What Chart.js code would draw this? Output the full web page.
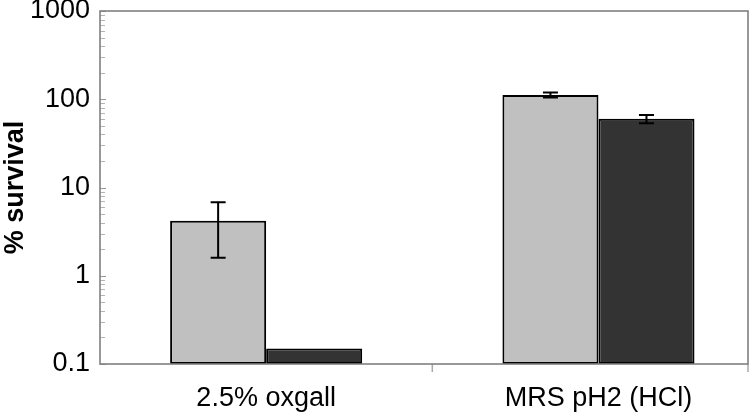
<!DOCTYPE html>
<html>
<head>
<meta charset="utf-8">
<script src="https://cdn.jsdelivr.net/npm/chart.js@4/dist/chart.umd.min.js"></script>
<style>
  html, body { margin: 0; padding: 0; background: #ffffff; }
  #wrap { width: 750px; height: 415px; }
</style>
</head>
<body>
<div id="wrap"><canvas id="c" width="750" height="415"></canvas></div>
<script>
// ---- data ----
const categories = ["2.5% oxgall", "MRS pH2 (HCl)"];
const survivalLight = [4.2, 112];
const survivalDark = [0.15, 60];
const errorLight = [2.6, 7];
const errorDark = [0, 6.5];
const yTickValues = [0.1, 1, 10, 100, 1000];

const FONT = "'Liberation Sans', Arial, Helvetica, sans-serif";
const AXIS_GRAY = '#808080';

function toPoints(values) {
  return values.map((v, i) => ({ x: i, y: v }));
}

const errorBars = {
  id: 'errorBars',
  afterDatasetsDraw(chart) {
    const ctx = chart.ctx;
    const ys = chart.scales.y;
    ctx.save();
    ctx.strokeStyle = '#000000';
    ctx.lineWidth = 2;
    chart.data.datasets.forEach((ds, di) => {
      const meta = chart.getDatasetMeta(di);
      ds.errors.forEach((e, i) => {
        if (!e) return;
        const el = meta.data[i];
        const v = ds.data[i].y;
        const top = ys.getPixelForValue(v + e);
        const bot = ys.getPixelForValue(Math.max(v - e, ys.min));
        const x = el.x;
        ctx.beginPath();
        ctx.moveTo(x, top); ctx.lineTo(x, bot);
        ctx.moveTo(x - 7.5, top); ctx.lineTo(x + 7.5, top);
        ctx.moveTo(x - 7.5, bot); ctx.lineTo(x + 7.5, bot);
        ctx.stroke();
      });
    });
    ctx.restore();
  }
};

const frame = {
  id: 'frame',
  afterDatasetsDraw(chart) {
    const ctx = chart.ctx;
    const a = chart.chartArea;
    const ys = chart.scales.y;
    const xs = chart.scales.x;
    ctx.save();
    // minor / major ticks inside the left axis
    const lo = Math.round(Math.log10(ys.min));
    const hi = Math.round(Math.log10(ys.max));
    for (let d = lo; d <= hi; d++) {
      for (let k = 1; k <= 9; k++) {
        const v = k * Math.pow(10, d);
        if (v > ys.max * 1.0001) break;
        const y = Math.round(ys.getPixelForValue(v)) + 0.5;
        ctx.strokeStyle = k === 1 ? '#9a9a9a' : '#b5b5b5';
        ctx.lineWidth = 1;
        ctx.beginPath();
        ctx.moveTo(a.left, y);
        ctx.lineTo(a.left + (k === 1 ? 6 : 5), y);
        ctx.stroke();
      }
    }
    // category separator ticks below x axis
    ctx.strokeStyle = '#a8a8a8';
    ctx.lineWidth = 1.5;
    [xs.getPixelForValue(0.5), a.right].forEach(px => {
      ctx.beginPath();
      ctx.moveTo(px, a.bottom);
      ctx.lineTo(px, a.bottom + 8);
      ctx.stroke();
    });
    // plot box
    ctx.strokeStyle = AXIS_GRAY;
    ctx.lineWidth = 1.6;
    ctx.strokeRect(a.left, a.top, a.right - a.left, a.bottom - a.top);
    ctx.restore();
  }
};

new Chart(document.getElementById('c'), {
  type: 'bar',
  data: {
    datasets: [
      {
        label: 'Series 1',
        data: toPoints(survivalLight),
        errors: errorLight,
        backgroundColor: '#c0c0c0',
        borderColor: '#000000',
        borderWidth: 2,
        borderSkipped: false
      },
      {
        label: 'Series 2',
        data: toPoints(survivalDark),
        errors: errorDark,
        backgroundColor: '#333333',
        borderColor: '#000000',
        borderWidth: 2,
        borderSkipped: false
      }
    ]
  },
  options: {
    responsive: false,
    animation: false,
    devicePixelRatio: 1,
    layout: { padding: { left: 0, top: 0, right: 2, bottom: 0 } },
    datasets: { bar: { barPercentage: 1, categoryPercentage: 0.578 } },
    plugins: { legend: { display: false }, tooltip: { enabled: false } },
    scales: {
      x: {
        type: 'linear',
        offset: false,
        min: -0.5,
        max: 1.45,
        grid: { display: false, offset: false, drawTicks: false },
        border: { display: false },
        afterBuildTicks(scale) {
          scale.ticks = categories.map((_, i) => ({ value: i }));
        },
        ticks: {
          autoSkip: false,
          maxRotation: 0,
          padding: 18,
          color: '#000000',
          font: { family: FONT, size: 27 },
          callback: (v, i) => categories[i]
        },
        afterFit(scale) {
          scale.height = 51;
          scale.paddingLeft = 0;
          scale.paddingRight = 0;
        }
      },
      y: {
        type: 'logarithmic',
        min: 0.1,
        max: 1000,
        grid: { display: false, drawTicks: false },
        border: { display: false },
        afterBuildTicks(scale) {
          scale.ticks = yTickValues.map(v => ({ value: v, major: true }));
        },
        ticks: {
          autoSkip: false,
          padding: 10,
          color: '#000000',
          font: { family: FONT, size: 27 },
          callback: v => String(v)
        },
        title: {
          display: true,
          text: '% survival',
          color: '#000000',
          padding: { top: -1, bottom: 0 },
          font: { family: FONT, size: 27, weight: 'bold' }
        },
        afterFit(scale) {
          scale.width = 100;
          scale.paddingTop = 11;
          scale.paddingBottom = 0;
        }
      }
    }
  },
  plugins: [errorBars, frame]
});
</script>
</body>
</html>
